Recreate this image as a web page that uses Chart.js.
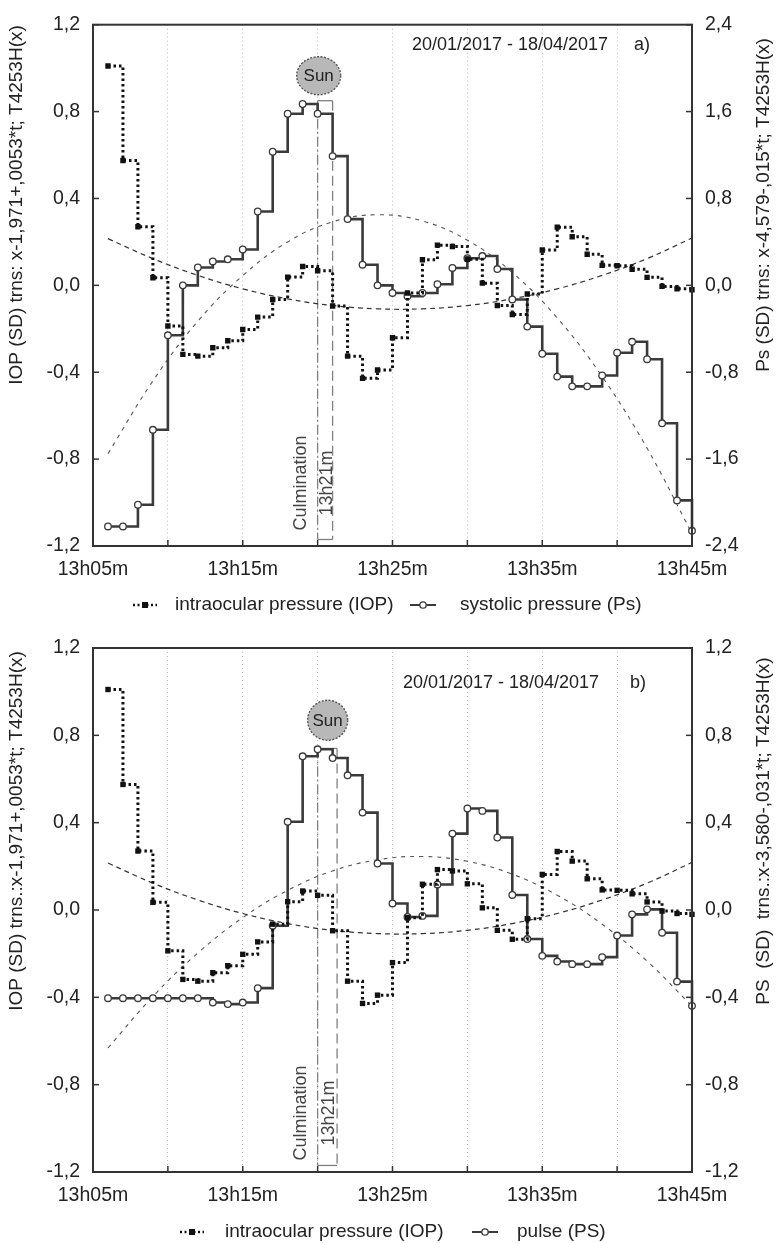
<!DOCTYPE html>
<html>
<head>
<meta charset="utf-8">
<script src="https://cdn.jsdelivr.net/npm/chart.js@4.4.1/dist/chart.umd.min.js"></script>
<style>
  body { margin: 0; background: #fff; }
  canvas { display: block; }
</style>
</head>
<body>
<canvas id="chartA" width="779" height="620"></canvas>
<canvas id="chartB" width="779" height="623"></canvas>
<script>
// minutes after 13h05m
const minutes = [1, 2, 3, 4, 5, 6, 7, 8, 9, 10, 11, 12, 13, 14, 15, 16, 17, 18, 19, 20,
  21, 22, 23, 24, 25, 26, 27, 28, 29, 30, 31, 32, 33, 34, 35, 36, 37, 38, 39, 40];

const iop = [1.01, 0.575, 0.27, 0.035, -0.187, -0.318, -0.326, -0.287, -0.255, -0.203,
  -0.146, -0.065, 0.038, 0.087, 0.067, -0.095, -0.326, -0.428, -0.39, -0.241,
  -0.035, 0.118, 0.185, 0.179, 0.12, 0.01, -0.093, -0.134, -0.04, 0.163,
  0.268, 0.224, 0.143, 0.092, 0.09, 0.074, 0.037, -0.005, -0.016, -0.02];

const systolic = [-2.22, -2.22, -2.02, -1.33, -0.46, 0.0, 0.165, 0.22, 0.24, 0.33,
  0.68, 1.23, 1.58, 1.67, 1.58, 1.19, 0.61, 0.19, 0.0, -0.07,
  -0.10, -0.07, 0.01, 0.16, 0.25, 0.27, 0.15, -0.13, -0.38, -0.63,
  -0.84, -0.93, -0.93, -0.83, -0.62, -0.52, -0.68, -1.27, -1.98, -2.26];

const pulse = [-0.404, -0.404, -0.404, -0.404, -0.404, -0.404, -0.404, -0.424, -0.431, -0.424,
  -0.358, -0.072, 0.404, 0.704, 0.736, 0.696, 0.617, 0.446, 0.213, 0.03,
  -0.032, -0.027, 0.117, 0.35, 0.465, 0.454, 0.332, 0.069, -0.133, -0.21,
  -0.236, -0.248, -0.248, -0.216, -0.117, -0.02, 0.003, -0.104, -0.328, -0.439];

// fitted curves (dashed), read at these minutes
const fitMinutes = [1, 4, 7, 10, 13, 16, 19, 22, 25, 28, 31, 34, 37, 40];
const iopFit = [0.215, 0.123, 0.046, -0.016, -0.062, -0.093, -0.108, -0.108, -0.093, -0.062, -0.016, 0.046, 0.123, 0.218];
const systolicFit = [-1.55, -0.88, -0.33, 0.09, 0.40, 0.585, 0.65, 0.593, 0.416, 0.118, -0.30, -0.84, -1.50, -2.285];
const pulseFit = [-0.632, -0.396, -0.197, -0.035, 0.09, 0.179, 0.23, 0.245, 0.223, 0.164, 0.068, -0.065, -0.234, -0.441];

const xTickLabels = ['13h05m', '', '13h15m', '', '13h25m', '', '13h35m', '', '13h45m'];
const yTickLabels = ['-1,2', '-0,8', '-0,4', '0,0', '0,4', '0,8', '1,2'];
const ySysTickLabels = ['-2,4', '-1,6', '-0,8', '0,0', '0,8', '1,6', '2,4'];

const FONT = '"Liberation Sans", Arial, sans-serif';
const INK = '#222';

function pts(xs, ys) {
  return xs.map((m, i) => ({ x: m, y: ys[i] }));
}

function line(ctx, x1, y1, x2, y2) {
  ctx.beginPath();
  ctx.moveTo(x1, y1);
  ctx.lineTo(x2, y2);
  ctx.stroke();
}

function rotText(ctx, text, x, y, size, color) {
  ctx.save();
  ctx.translate(x, y);
  ctx.rotate(-Math.PI / 2);
  ctx.font = size + 'px ' + FONT;
  ctx.fillStyle = color;
  ctx.textAlign = 'center';
  ctx.textBaseline = 'middle';
  ctx.fillText(text, 0, 0);
  ctx.restore();
}

function legendItem(ctx, kind, x, y, textX, text) {
  ctx.save();
  if (kind === 'iop') {
    ctx.strokeStyle = '#111';
    ctx.lineWidth = 2.5;
    ctx.setLineDash([2, 2.5]);
    line(ctx, x, y, x + 24, y);
    ctx.setLineDash([]);
    ctx.fillStyle = '#111';
    ctx.fillRect(x + 9, y - 3, 6, 6);
  } else {
    ctx.strokeStyle = '#3a3a3a';
    ctx.lineWidth = 2;
    line(ctx, x, y, x + 26, y);
    ctx.fillStyle = '#fff';
    ctx.lineWidth = 1.3;
    ctx.beginPath();
    ctx.arc(x + 13, y, 3.2, 0, Math.PI * 2);
    ctx.fill();
    ctx.stroke();
  }
  ctx.font = '19px ' + FONT;
  ctx.fillStyle = INK;
  ctx.textAlign = 'left';
  ctx.textBaseline = 'middle';
  ctx.fillText(text, textX, y);
  ctx.restore();
}

const panelPlugin = {
  id: 'panel',
  beforeDatasetsDraw(chart, args, o) {
    const { ctx, scales: { x, y } } = chart;
    const xa = x.getPixelForValue(o.culm[0]);
    const xb = x.getPixelForValue(o.culm[1]);
    const yt = y.getPixelForValue(o.culmTop);
    const yb = y.getPixelForValue(-1.17);
    ctx.save();
    ctx.strokeStyle = '#808080';
    ctx.lineWidth = 1.3;
    ctx.setLineDash([10, 3, 2, 3]);
    line(ctx, xa, yt, xa, yb);
    ctx.setLineDash([10, 5]);
    line(ctx, xb, yt, xb, yb);
    ctx.setLineDash([]);
    line(ctx, xa, yt, xb, yt);
    line(ctx, xa, yb, xb, yb);
    ctx.restore();
    rotText(ctx, 'Culmination', xa - 17, y.getPixelForValue(o.culmTextY), 18, '#444');
    rotText(ctx, '13h21m', (xa + xb) / 2 + 2, y.getPixelForValue(o.culmTextY), 18, '#444');
  },
  afterDraw(chart, args, o) {
    const { ctx, chartArea: a, scales } = chart;
    ctx.save();
    // inward tick marks
    ctx.strokeStyle = '#333';
    ctx.lineWidth = 1.5;
    scales.x.ticks.forEach((t, i) => {
      const px = scales.x.getPixelForTick(i);
      line(ctx, px, a.bottom, px, a.bottom - 6);
    });
    scales.y.ticks.forEach((t, i) => {
      const py = scales.y.getPixelForTick(i);
      line(ctx, a.left, py, a.left + 6, py);
    });
    scales.y1.ticks.forEach((t, i) => {
      const py = scales.y1.getPixelForTick(i);
      line(ctx, a.right, py, a.right - 6, py);
    });
    // frame
    ctx.lineWidth = 2;
    ctx.strokeRect(a.left, a.top, a.right - a.left, a.bottom - a.top);

    // sun
    const sx = scales.x.getPixelForValue(o.sun[0]);
    const sy = scales.y.getPixelForValue(o.sun[1]);
    ctx.beginPath();
    ctx.ellipse(sx, sy, o.sunR[0], o.sunR[1], 0, 0, Math.PI * 2);
    ctx.fillStyle = '#b8b8b8';
    ctx.fill();
    ctx.strokeStyle = '#555';
    ctx.lineWidth = 1.4;
    ctx.setLineDash([2, 1.5]);
    ctx.stroke();
    ctx.setLineDash([]);
    ctx.font = '17px ' + FONT;
    ctx.fillStyle = INK;
    ctx.textAlign = 'center';
    ctx.textBaseline = 'middle';
    ctx.fillText('Sun', sx, sy + 1);

    // period + panel letter
    ctx.font = '18px ' + FONT;
    ctx.fillText('20/01/2017 - 18/04/2017', o.dateX, o.dateY);
    ctx.fillText(o.letter, o.letterX, o.dateY);
    ctx.restore();

    // axis titles
    rotText(ctx, o.leftTitle, 17, o.titleY, 19, INK);
    rotText(ctx, o.rightTitle, 764, o.titleY, 19, INK);

    // legend
    legendItem(ctx, 'iop', o.legend[0], o.legendY, o.legend[1], 'intraocular pressure (IOP)');
    legendItem(ctx, 'ps', o.legend[2], o.legendY, o.legend[3], o.psLabel);
  }
};

function makeChart(id, cfg) {
  const ctx = document.getElementById(id).getContext('2d');
  return new Chart(ctx, {
    type: 'line',
    data: {
      datasets: [
        {
          data: pts(minutes, iop),
          yAxisID: 'y',
          stepped: true,
          borderColor: '#111',
          borderWidth: 3,
          borderDash: [2.5, 3],
          pointStyle: 'rect',
          pointRadius: 3.8,
          pointBackgroundColor: '#111',
          pointBorderWidth: 0
        },
        {
          data: pts(minutes, cfg.ps),
          yAxisID: 'y1',
          stepped: true,
          borderColor: '#3a3a3a',
          borderWidth: 2.6,
          pointStyle: 'circle',
          pointRadius: 3.3,
          pointBackgroundColor: '#fff',
          pointBorderColor: '#3a3a3a',
          pointBorderWidth: 1.3
        },
        {
          data: pts(fitMinutes, iopFit),
          yAxisID: 'y',
          tension: 0.4,
          borderColor: '#333',
          borderWidth: 1.2,
          borderDash: [5, 4],
          pointRadius: 0
        },
        {
          data: pts(fitMinutes, cfg.psFit),
          yAxisID: 'y1',
          tension: 0.4,
          borderColor: '#555',
          borderWidth: 1.1,
          borderDash: [4, 5],
          pointRadius: 0
        }
      ]
    },
    options: {
      responsive: false,
      animation: false,
      devicePixelRatio: 1,
      events: [],
      clip: 6,
      layout: { padding: { top: cfg.top, left: 0, right: 0, bottom: 0 } },
      plugins: {
        legend: { display: false },
        tooltip: { enabled: false },
        panel: cfg.panel
      },
      scales: {
        x: {
          type: 'linear',
          min: 0,
          max: 40,
          afterFit: s => { s.height = cfg.xHeight; },
          grid: {
            drawTicks: false,
            lineWidth: 1,
            color: c => (c.tick && c.tick.value > 0 && c.tick.value < 40) ? '#bdbdbd' : 'rgba(0,0,0,0)'
          },
          border: { display: false, dash: [1, 3] },
          ticks: {
            stepSize: 5,
            autoSkip: false,
            maxRotation: 0,
            padding: 12,
            color: INK,
            font: { family: FONT, size: 19.5 },
            callback: (v, i) => xTickLabels[i]
          }
        },
        y: {
          position: 'left',
          min: -1.2,
          max: 1.2,
          afterFit: s => { s.width = 93; },
          grid: { display: false, drawTicks: false },
          border: { display: false },
          ticks: {
            stepSize: 0.4,
            padding: 13,
            color: INK,
            font: { family: FONT, size: 19.5 },
            callback: (v, i) => yTickLabels[i]
          }
        },
        y1: {
          position: 'right',
          min: cfg.rightRange[0],
          max: cfg.rightRange[1],
          afterFit: s => { s.width = 87; },
          grid: { display: false, drawTicks: false },
          border: { display: false },
          ticks: {
            stepSize: cfg.rightStep,
            padding: 13,
            color: INK,
            font: { family: FONT, size: 19.5 },
            callback: (v, i) => cfg.rightLabels[i]
          }
        }
      }
    },
    plugins: [panelPlugin]
  });
}

makeChart('chartA', {
  ps: systolic,
  psFit: systolicFit,
  top: 22,
  xHeight: 74,
  rightRange: [-2.4, 2.4],
  rightStep: 0.8,
  rightLabels: ySysTickLabels,
  panel: {
    culm: [15, 16],
    culmTop: 0.85,
    culmTextY: -0.91,
    sun: [15.07, 0.965],
    sunR: [22, 19],
    dateX: 510,
    dateY: 45,
    letter: 'a)',
    letterX: 642,
    leftTitle: 'IOP (SD) trns: x-1,971+,0053*t; T4253H(x)',
    rightTitle: 'Ps (SD) trns: x-4,579-,015*t; T4253H(x)',
    titleY: 205,
    legend: [133, 175, 410, 460],
    legendY: 605,
    psLabel: 'systolic pressure (Ps)'
  }
});

makeChart('chartB', {
  ps: pulse,
  psFit: pulseFit,
  top: 28,
  xHeight: 71,
  rightRange: [-1.2, 1.2],
  rightStep: 0.4,
  rightLabels: yTickLabels,
  panel: {
    culm: [15, 16.3],
    culmTop: 0.74,
    culmTextY: -0.93,
    sun: [15.67, 0.869],
    sunR: [20, 20],
    dateX: 501,
    dateY: 63,
    letter: 'b)',
    letterX: 638,
    leftTitle: 'IOP (SD) trns.:x-1,971+,0053*t; T4253H(x)',
    rightTitle: 'PS  (SD)  trns.:x-3,580-,031*t; T4253H(x)',
    titleY: 211,
    legend: [180, 225, 472, 517],
    legendY: 612,
    psLabel: 'pulse (PS)'
  }
});
</script>
</body>
</html>
